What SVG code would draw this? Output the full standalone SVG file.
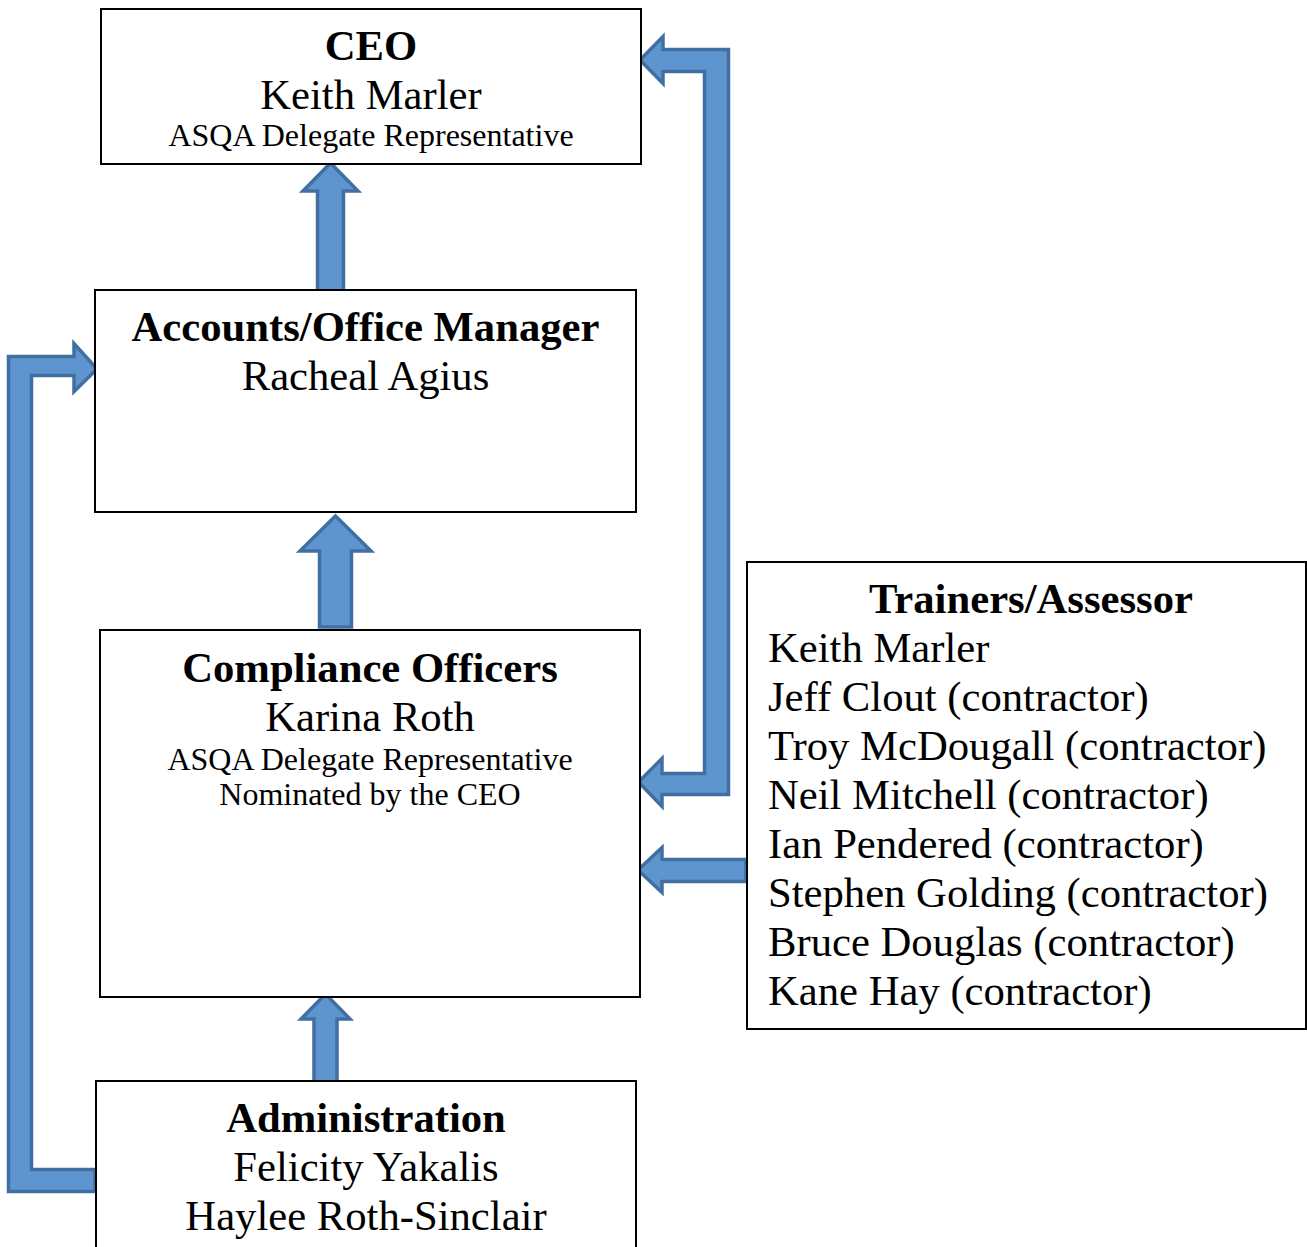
<svg xmlns="http://www.w3.org/2000/svg" width="1307" height="1247" viewBox="0 0 1307 1247">
<style>
.box{fill:#ffffff;stroke:#000000;stroke-width:2}
.arr{fill:#5F95CE;stroke:#416FA2;stroke-width:3.5;stroke-linejoin:miter}
text{font-family:"Liberation Serif","Times New Roman",serif;fill:#000000}
.t{font-size:42.67px;font-weight:bold;text-anchor:middle}
.n{font-size:42.67px;text-anchor:middle}
.s{font-size:32px;text-anchor:middle}
.l{font-size:42.67px}
</style>
<rect width="1307" height="1247" fill="#ffffff"/>
<g id="connectors">
<polygon class="arr" points="640,60 663,36.5 663,49.5 728.5,49.5 728.5,794.5 662,794.5 662,806.5 638.5,782 662,758.5 662,773.5 704.5,773.5 704.5,71.5 663,71.5 663,83.5"/>
<polygon class="arr" points="97,369 74,343.5 74,356.5 8.5,356.5 8.5,1191.5 95,1191.5 95,1169.5 31.5,1169.5 31.5,375.5 74,375.5 74,391.5"/>
<polygon class="arr" points="330.5,163 358,191 343.5,191 343.5,291 317.5,291 317.5,191 303,191"/>
<polygon class="arr" points="335.5,516 371,551 351.5,551 351.5,627 319.5,627 319.5,551 300,551"/>
<polygon class="arr" points="325.5,994 350,1019 337,1019 337,1082 314,1082 314,1019 301,1019"/>
<polygon class="arr" points="638,870 662,847.5 662,859.5 746,859.5 746,881.5 662,881.5 662,892.5"/>
</g>
<g id="ceo">
<rect class="box" x="101" y="9" width="540" height="155"/>
<text class="t" x="371" y="60">CEO</text>
<text class="n" x="371" y="109">Keith Marler</text>
<text class="s" x="371" y="146">ASQA Delegate Representative</text>
</g>
<g id="accounts">
<rect class="box" x="95" y="290" width="541" height="222"/>
<text class="t" x="365.5" y="341">Accounts/Office Manager</text>
<text class="n" x="365.5" y="390">Racheal Agius</text>
</g>
<g id="compliance">
<rect class="box" x="100" y="630" width="540" height="367"/>
<text class="t" x="370" y="682">Compliance Officers</text>
<text class="n" x="370" y="731">Karina Roth</text>
<text class="s" x="370" y="770">ASQA Delegate Representative</text>
<text class="s" x="370" y="805">Nominated by the CEO</text>
</g>
<g id="trainers">
<rect class="box" x="747" y="562" width="559" height="467"/>
<text class="t" x="1031" y="613">Trainers/Assessor</text>
<text class="l" x="768" y="662">Keith Marler</text>
<text class="l" x="768" y="711">Jeff Clout (contractor)</text>
<text class="l" x="768" y="760">Troy McDougall (contractor)</text>
<text class="l" x="768" y="809">Neil Mitchell (contractor)</text>
<text class="l" x="768" y="858">Ian Pendered (contractor)</text>
<text class="l" x="768" y="907">Stephen Golding (contractor)</text>
<text class="l" x="768" y="956">Bruce Douglas (contractor)</text>
<text class="l" x="768" y="1005">Kane Hay (contractor)</text>
</g>
<g id="administration">
<rect class="box" x="96" y="1081" width="540" height="190"/>
<text class="t" x="366" y="1132">Administration</text>
<text class="n" x="366" y="1181">Felicity Yakalis</text>
<text class="n" x="366" y="1230">Haylee Roth-Sinclair</text>
</g>
</svg>
